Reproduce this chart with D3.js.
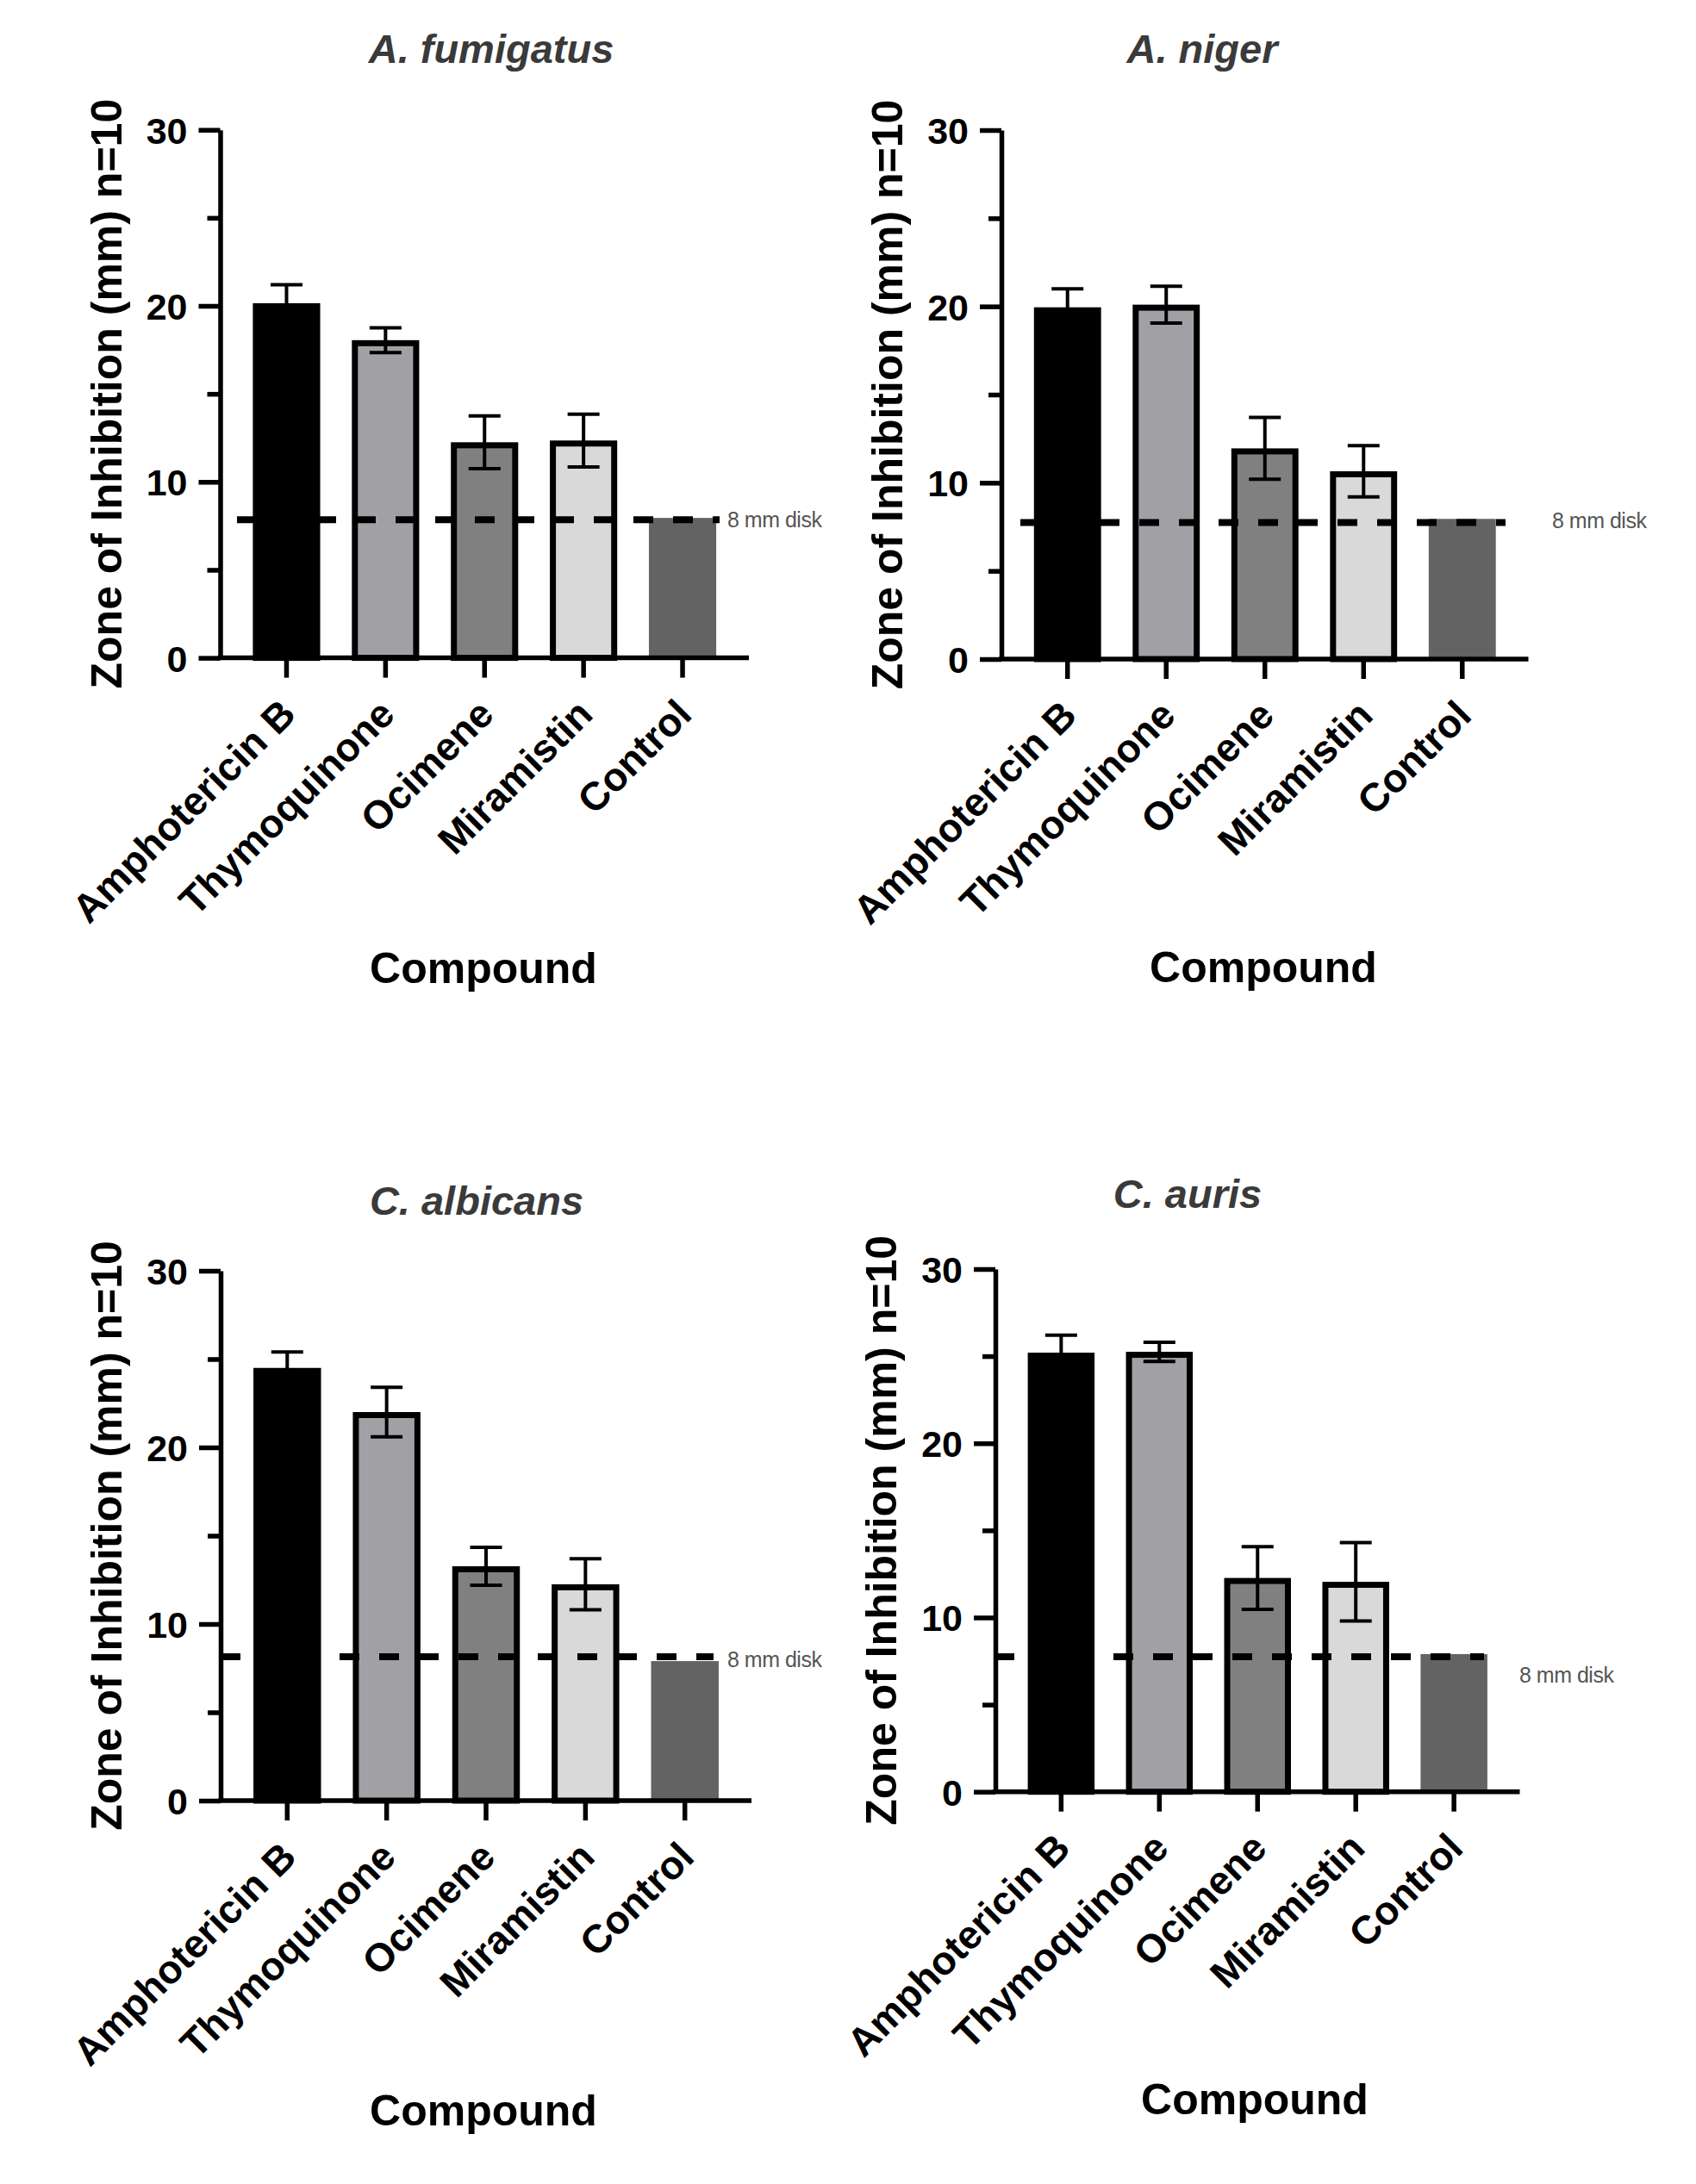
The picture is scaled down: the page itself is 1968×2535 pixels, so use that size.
<!DOCTYPE html>
<html>
<head>
<meta charset="utf-8">
<script src="https://cdn.jsdelivr.net/npm/d3@7"></script>
<style>
  html, body { margin: 0; padding: 0; background: #fff; }
  svg { display: block; }
  text { font-family: "Liberation Sans", Arial, Helvetica, sans-serif; }
</style>
</head>
<body>
<svg id="chart" width="1968" height="2535"></svg>
<script>
// ---------- DATA ----------
const compounds = ["Amphotericin B", "Thymoquinone", "Ocimene", "Miramistin", "Control"];
const species = ["A. fumigatus", "A. niger", "C. albicans", "C. auris"];
const meanFumigatus = [20.15, 18.05, 12.25, 12.35, 7.95];
const sdFumigatus   = [1.05, 0.7, 1.5, 1.5, 0];
const meanNiger     = [19.95, 20.1, 11.95, 10.65, 7.95];
const sdNiger       = [1.05, 1.05, 1.75, 1.45, 0];
const meanAlbicans  = [24.5, 22.0, 13.27, 12.25, 7.9];
const sdAlbicans    = [0.9, 1.4, 1.07, 1.45, 0];
const meanAuris     = [25.2, 25.25, 12.27, 12.05, 7.9];
const sdAuris       = [1.0, 0.55, 1.8, 2.25, 0];
const diskValue     = [7.85, 7.75, 8.15, 7.75];
const diskLabel     = "8 mm disk";
const yMajorTicks   = [0, 10, 20, 30];
const yMinorTicks   = [5, 15, 25];
const yTitle = "Zone of Inhibition (mm) n=10";
const xTitle = "Compound";

const means = [meanFumigatus, meanNiger, meanAlbicans, meanAuris];
const sds = [sdFumigatus, sdNiger, sdAlbicans, sdAuris];

// ---------- STYLE / LAYOUT ----------
const fills   = ["#000000", "#a1a1a5", "#808080", "#d9d9d9", "#636363"];
const strokes = ["#000000", "#000000", "#000000", "#000000", "none"];

const layout = [
  { x0: 255.5, x1: 869,    yTop: 150.7, yBot: 763.6, title: [570, 73],   comp: [561, 1141],  disk: [844, 612],   dash: [275, 835] },
  { x0: 1162,  x1: 1773.5, yTop: 151,   yBot: 765,   title: [1395, 73],  comp: [1466, 1140], disk: [1801, 613],  dash: [1184, 1747] },
  { x0: 256,   x1: 872,    yTop: 1475,  yBot: 2090,  title: [553, 1410], comp: [561, 2467],  disk: [844, 1935],  dash: [256, 828] },
  { x0: 1155,  x1: 1763.5, yTop: 1473,  yBot: 2079.7,title: [1378, 1402],comp: [1456, 2454], disk: [1763, 1953], dash: [1154, 1722] }
];

const svg = d3.select("#chart");
svg.append("rect").attr("width", 1968).attr("height", 2535).attr("fill", "#fff");

const AXW = 5.5, BARSTROKE = 7;

species.forEach((sp, p) => {
  const L = layout[p];
  const g = svg.append("g");
  const x = d3.scaleBand().domain(compounds).range([L.x0, L.x1]).paddingInner(0.32).paddingOuter(0.33);
  const y = d3.scaleLinear().domain([0, 30]).range([L.yBot, L.yTop]);
  const rows = compounds.map((c, i) => ({ c, i, m: means[p][i], s: sds[p][i] }));

  // bars (outer edge matches band & value)
  g.selectAll("rect.bar").data(rows).join("rect")
    .attr("class", "bar")
    .attr("x", d => x(d.c) + (strokes[d.i] === "none" ? 0 : BARSTROKE / 2))
    .attr("width", d => x.bandwidth() - (strokes[d.i] === "none" ? 0 : BARSTROKE))
    .attr("y", d => y(d.m) + (strokes[d.i] === "none" ? 0 : BARSTROKE / 2))
    .attr("height", d => y(0) - y(d.m) - (strokes[d.i] === "none" ? 0 : BARSTROKE / 2))
    .attr("fill", d => fills[d.i])
    .attr("stroke", d => strokes[d.i])
    .attr("stroke-width", BARSTROKE);

  // dashed reference line
  g.append("line")
    .attr("x1", L.dash[0]).attr("x2", L.dash[1])
    .attr("y1", y(diskValue[p])).attr("y2", y(diskValue[p]))
    .attr("stroke", "#000").attr("stroke-width", 8)
    .attr("stroke-dasharray", "23,23");

  g.append("text")
    .attr("x", L.disk[0]).attr("y", L.disk[1])
    .attr("font-size", 25).attr("fill", "#555").attr("letter-spacing", -0.5)
    .text(diskLabel);

  // error bars
  const eb = rows.filter(d => d.s > 0);
  const cx = d => x(d.c) + x.bandwidth() / 2;
  g.selectAll("line.ev").data(eb).join("line")
    .attr("x1", cx).attr("x2", cx)
    .attr("y1", d => y(d.m - d.s)).attr("y2", d => y(d.m + d.s))
    .attr("stroke", "#000").attr("stroke-width", 4);
  [1, -1].forEach(sign => {
    g.selectAll("line.cap" + sign).data(eb).join("line")
      .attr("x1", d => cx(d) - 18.5).attr("x2", d => cx(d) + 18.5)
      .attr("y1", d => y(d.m + sign * d.s)).attr("y2", d => y(d.m + sign * d.s))
      .attr("stroke", "#000").attr("stroke-width", 4);
  });

  // y axis
  const yAx = g.append("g").attr("transform", `translate(${L.x0},0)`)
    .call(d3.axisLeft(y).tickValues(yMajorTicks).tickSize(25).tickSizeOuter(0).tickPadding(13));
  yAx.select(".domain").attr("stroke-width", AXW);
  yAx.selectAll(".tick line").attr("stroke-width", AXW);
  yAx.selectAll(".tick text").attr("font-size", 43).attr("font-weight", "bold")
    .attr("font-family", "Liberation Sans, Arial, sans-serif").attr("fill", "#000").attr("dy", "0.36em");
  const yMin = g.append("g").attr("transform", `translate(${L.x0},0)`)
    .call(d3.axisLeft(y).tickValues(yMinorTicks).tickSize(15).tickSizeOuter(0).tickFormat(""));
  yMin.select(".domain").remove();
  yMin.selectAll(".tick line").attr("stroke-width", AXW);

  // x axis
  const xAx = g.append("g").attr("transform", `translate(0,${L.yBot})`)
    .call(d3.axisBottom(x).tickSize(23).tickSizeOuter(0).tickFormat(""));
  xAx.select(".domain").attr("stroke-width", AXW)
    .attr("d", `M${L.x0 - AXW / 2},0H${L.x1}`);
  xAx.selectAll(".tick line").attr("stroke-width", AXW);

  g.selectAll("text.xl").data(compounds).join("text")
    .attr("class", "xl")
    .attr("transform", c => `translate(${x(c) + x.bandwidth() / 2 + 13},${L.yBot + 68}) rotate(-45)`)
    .attr("text-anchor", "end")
    .attr("font-size", 46).attr("font-weight", "bold").attr("fill", "#000")
    .text(c => c);

  // titles
  g.append("text")
    .attr("x", L.title[0]).attr("y", L.title[1])
    .attr("text-anchor", "middle").attr("font-size", 47)
    .attr("font-weight", "bold").attr("font-style", "italic").attr("fill", "#3a3a3a")
    .text(sp);

  g.append("text")
    .attr("x", L.comp[0]).attr("y", L.comp[1])
    .attr("text-anchor", "middle").attr("font-size", 50)
    .attr("font-weight", "bold").attr("fill", "#000")
    .text(xTitle);

  g.append("text")
    .attr("transform", `translate(${L.x0 - 115},${(L.yTop + L.yBot) / 2}) rotate(-90)`)
    .attr("text-anchor", "middle").attr("font-size", 50)
    .attr("font-weight", "bold").attr("fill", "#000")
    .text(yTitle);
});
</script>
</body>
</html>
